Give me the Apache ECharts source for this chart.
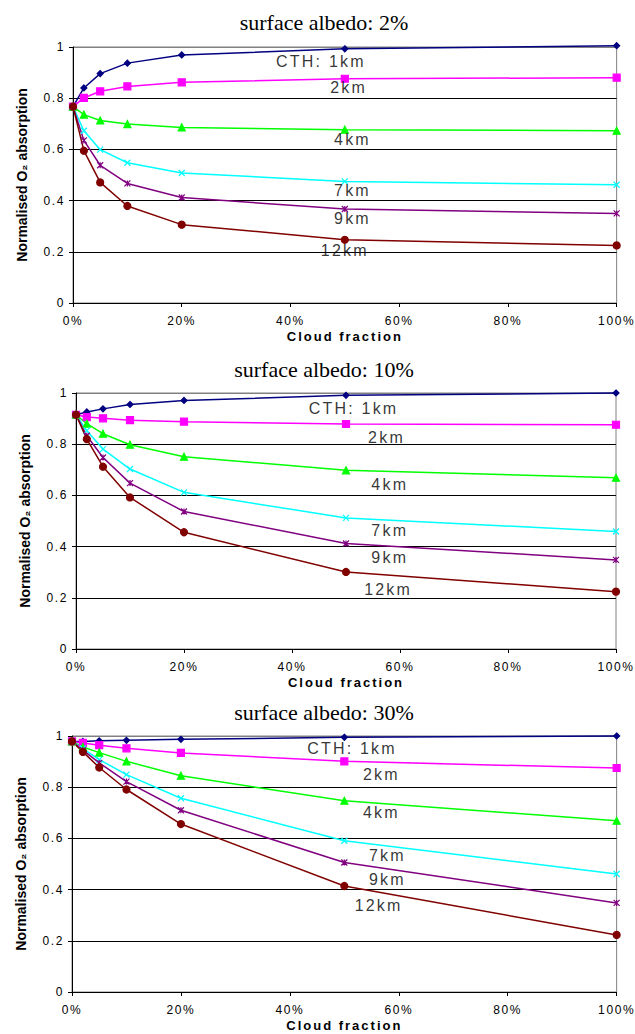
<!DOCTYPE html>
<html>
<head>
<meta charset="utf-8">
<script src="https://cdn.jsdelivr.net/npm/echarts@6/dist/echarts.min.js"></script>
<style>
    html, body { margin: 0; padding: 0; background: #fff; }
    #chart { width: 635px; height: 1034px; }
    /* Excel-like spaced Arial text; titles (serif) and y name (14px) stay tight */
    #chart text { letter-spacing: 1.6px; }
    #chart text[style*="13px"] { letter-spacing: 2px; }
    #chart text[style*="16px"] { letter-spacing: 2.2px; }
    #chart text[style*="Serif"], #chart text[style*="14px"] { letter-spacing: 0; }
</style>
</head>
<body>
<div id="chart"></div>
<script>
// cloud fraction (%)
const cloudFraction = [0, 2, 5, 10, 20, 50, 100];
const heights = ["1km", "2km", "4km", "7km", "9km", "12km"];
const albedos = ["2%", "10%", "30%"];

// normalised O2 absorption, one array per cloud top height, per surface albedo
const alb2 = {
    "1km": [0.767, 0.840, 0.896, 0.937, 0.969, 0.993, 1.005],
    "2km": [0.767, 0.801, 0.827, 0.846, 0.862, 0.876, 0.880],
    "4km": [0.767, 0.736, 0.713, 0.699, 0.686, 0.677, 0.673],
    "7km": [0.767, 0.673, 0.599, 0.548, 0.508, 0.475, 0.462],
    "9km": [0.767, 0.635, 0.538, 0.467, 0.412, 0.367, 0.350],
    "12km": [0.767, 0.595, 0.471, 0.379, 0.306, 0.247, 0.225],
};
const alb10 = {
    "1km": [0.915, 0.926, 0.938, 0.955, 0.971, 0.991, 1.0],
    "2km": [0.915, 0.906, 0.901, 0.894, 0.888, 0.879, 0.876],
    "4km": [0.915, 0.880, 0.841, 0.798, 0.751, 0.698, 0.669],
    "7km": [0.915, 0.853, 0.781, 0.703, 0.612, 0.512, 0.459],
    "9km": [0.915, 0.833, 0.748, 0.648, 0.537, 0.412, 0.348],
    "12km": [0.915, 0.820, 0.712, 0.592, 0.456, 0.301, 0.224],
};
const alb30 = {
    "1km": [0.979, 0.979, 0.981, 0.983, 0.987, 0.995, 1.0],
    "2km": [0.979, 0.973, 0.964, 0.952, 0.934, 0.901, 0.875],
    "4km": [0.979, 0.957, 0.935, 0.901, 0.845, 0.747, 0.669],
    "7km": [0.979, 0.951, 0.908, 0.849, 0.757, 0.591, 0.461],
    "9km": [0.979, 0.945, 0.895, 0.822, 0.710, 0.506, 0.348],
    "12km": [0.979, 0.938, 0.877, 0.791, 0.656, 0.414, 0.223],
};
const panelData = [alb2, alb10, alb30];

// curve labels: [cloud fraction, value] where each label sits
const labelText = ["CTH: 1km", "2km", "4km", "7km", "9km", "12km"];
const labelPos = [
    [[45.6, 0.943], [50.7, 0.840], [51.4, 0.638], [51.4, 0.439], [51.4, 0.329], [50.0, 0.205]],
    [[51.4, 0.941], [57.5, 0.828], [58.1, 0.641], [58.1, 0.464], [58.1, 0.359], [57.8, 0.233]],
    [[51.4, 0.951], [56.8, 0.850], [56.8, 0.701], [57.9, 0.532], [57.9, 0.438], [56.3, 0.337]],
];

const colors = {
    "1km": "#000080", "2km": "#ff00ff", "4km": "#00ff00",
    "7km": "#00ffff", "9km": "#800080", "12km": "#800000",
};
const symbols = {
    "1km": ["diamond", 6],
    "2km": ["rect", 7],
    "4km": ["triangle", 7],
    "7km": ["path://M0,0L10,10M10,0L0,10", 6],
    "9km": ["path://M0,0L10,10M10,0L0,10M5,0L5,10", 6],
    "12km": ["circle", 7],
};

const grids = [
    { left: 73, top: 47, width: 545, height: 256 },
    { left: 76, top: 393, width: 540, height: 256 },
    { left: 72, top: 736, width: 545, height: 256 },
];
const titleTops = [11, 358, 701];
const sans = "'Liberation Sans', Arial, sans-serif";

const chart = echarts.init(document.getElementById("chart"), null, { renderer: "svg" });

const title = albedos.map((a, i) => ({
    text: "surface albedo: " + a,
    left: 324,
    top: titleTops[i],
    textAlign: "center",
    padding: 0,
    textStyle: {
        fontFamily: "'Liberation Serif', 'Times New Roman', serif",
        fontSize: 22,
        fontWeight: "normal",
        color: "#000",
    },
}));

const grid = grids.map((g) => ({
    ...g,
    show: true,
    borderColor: "#808080",
    borderWidth: 1,
    backgroundColor: "#fff",
}));

const xAxis = grids.map((g, i) => ({
    type: "value",
    gridIndex: i,
    min: 0,
    max: 100,
    interval: 20,
    name: "Cloud fraction",
    nameLocation: "middle",
    nameGap: 27,
    nameTextStyle: { fontFamily: sans, fontSize: 13, fontWeight: "bold", color: "#000" },
    axisLine: { show: true, lineStyle: { color: "#000", width: 1 } },
    axisTick: { show: true, length: 4, lineStyle: { color: "#000" } },
    axisLabel: {
        formatter: "{value}%",
        fontFamily: sans,
        fontSize: 12,
        color: "#000",
        margin: 12,
    },
    splitLine: { show: false },
}));

const yAxis = grids.map((g, i) => ({
    type: "value",
    gridIndex: i,
    min: 0,
    max: 1,
    interval: 0.2,
    name: "Normalised O₂ absorption",
    nameLocation: "middle",
    nameGap: 44,
    nameTextStyle: { fontFamily: sans, fontSize: 14, fontWeight: "bold", color: "#000" },
    axisLine: { show: true, lineStyle: { color: "#000", width: 1 } },
    axisTick: { show: true, length: 4, lineStyle: { color: "#000" } },
    axisLabel: { fontFamily: sans, fontSize: 12, color: "#000", margin: 8 },
    splitLine: {
        show: true,
        lineStyle: { color: ["#808080", "#000", "#000", "#000", "#000", "#808080"], width: 1 },
    },
}));

const series = [];
panelData.forEach((panel, p) => {
    heights.forEach((h) => {
        const c = colors[h];
        series.push({
            type: "line",
            name: h,
            xAxisIndex: p,
            yAxisIndex: p,
            data: cloudFraction.map((x, k) => [x, panel[h][k]]),
            symbol: symbols[h][0],
            symbolSize: symbols[h][1],
            showSymbol: true,
            clip: false,
            lineStyle: { color: c, width: 1.5 },
            itemStyle: { color: c, borderColor: c, borderWidth: 1.2 },
            z: 3,
        });
    });
    // curve labels
    series.push({
        type: "scatter",
        xAxisIndex: p,
        yAxisIndex: p,
        symbolSize: 0,
        silent: true,
        data: labelPos[p].map((pos, k) => ({ value: pos, name: labelText[k] })),
        label: {
            show: true,
            position: "inside",
            formatter: (d) => d.name,
            fontFamily: sans,
            fontSize: 16,
            color: "#000",
        },
        z: 4,
    });
});

chart.setOption({
    animation: false,
    backgroundColor: "#fff",
    title,
    grid,
    xAxis,
    yAxis,
    series,
});
</script>
</body>
</html>
